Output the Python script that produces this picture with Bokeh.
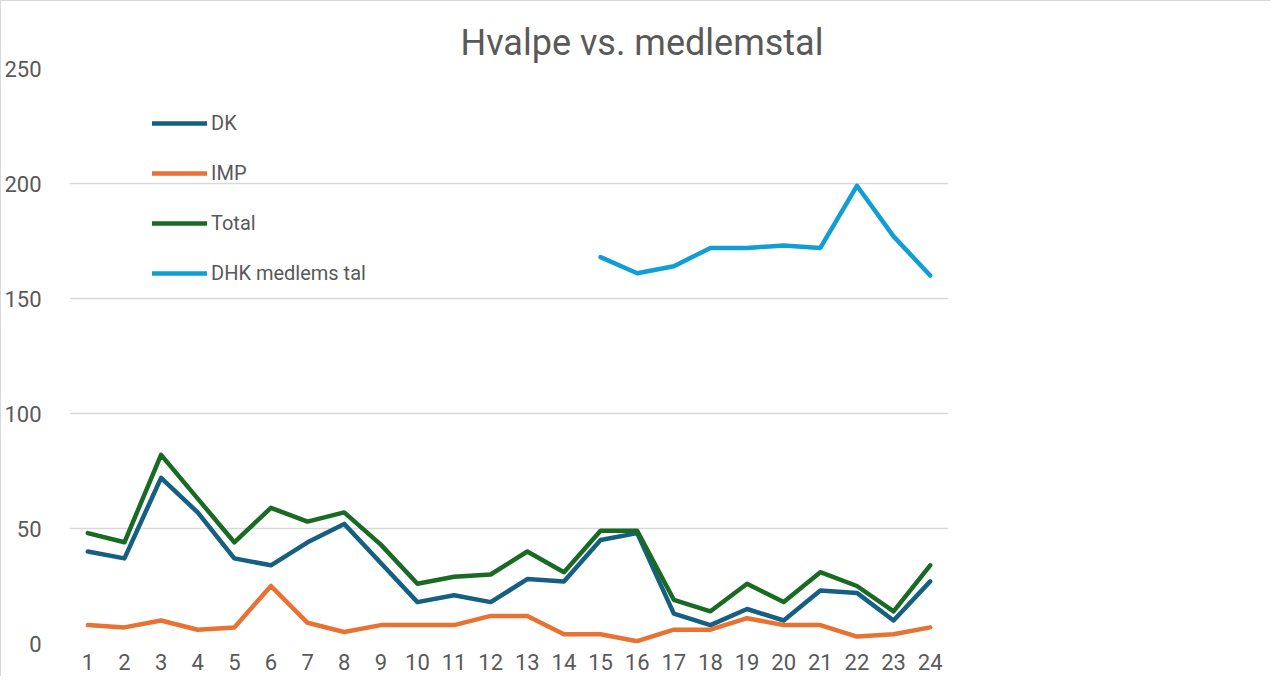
import math
from bokeh.plotting import figure
from bokeh.models import ColumnDataSource, FixedTicker, Legend, LegendItem, Range1d
from bokeh.embed import file_html
from bokeh.resources import INLINE

# ---- data ----
periods = list(range(1, 25))
dk = [40, 37, 72, 57, 37, 34, 44, 52, 35, 18, 21, 18, 28, 27, 45, 48, 13, 8, 15, 10, 23, 22, 10, 27]
imp = [8, 7, 10, 6, 7, 25, 9, 5, 8, 8, 8, 12, 12, 4, 4, 1, 6, 6, 11, 8, 8, 3, 4, 7]
total = [48, 44, 82, 63, 44, 59, 53, 57, 43, 26, 29, 30, 40, 31, 49, 49, 19, 14, 26, 18, 31, 25, 14, 34]
dhk = [None] * 14 + [168, 161, 164, 172, 172, 173, 172, 199, 177, 160]
y_ticks = [0, 50, 100, 150, 200, 250]
title_text = "Hvalpe vs. medlemstal"
series_names = ["DK", "IMP", "Total", "DHK medlems tal"]
colors = ["#156082", "#E97132", "#196B24", "#0F9ED5"]

FONT = "Roboto"
TXT = "#595959"

p = figure(width=1270, height=676, output_backend="svg", toolbar_location=None,
           x_range=Range1d(0.5, 24.5), y_range=Range1d(0, 250),
           min_border_left=65, min_border_right=323, min_border_top=67, min_border_bottom=34,
           styles={"border-top": "1px solid #d9d9d9", "border-left": "1px solid #d9d9d9"})
p.outline_line_color = None
p.background_fill_color = "white"
p.border_fill_color = "white"

p.title.text = title_text
p.title.text_font = FONT
p.title.text_font_size = "36px"
p.title.text_font_style = "normal"
p.title.text_color = TXT
p.title.align = "left"
p.title.offset = 391

p.xgrid.grid_line_color = None
p.ygrid.grid_line_color = "#d9d9d9"
p.ygrid.grid_line_width = 1.5
p.yaxis.ticker = FixedTicker(ticks=y_ticks)
p.xaxis.ticker = FixedTicker(ticks=periods)
for ax in (p.xaxis, p.yaxis):
    ax.axis_line_color = None
    ax.major_tick_line_color = None
    ax.minor_tick_line_color = None
    ax.major_label_text_font = FONT
    ax.major_label_text_font_size = "22px"
    ax.major_label_text_color = TXT
p.yaxis.major_label_standoff = 22
p.xaxis.major_label_standoff = 4

renderers = []
for name, vals, col in zip(series_names, [dk, imp, total, dhk], colors):
    ys = [math.nan if v is None else v for v in vals]
    src = ColumnDataSource(dict(x=periods, y=ys))
    r = p.line("x", "y", source=src, line_color=col, line_width=4.5,
               line_cap="round", line_join="round")
    renderers.append((name, r))

legend = Legend(items=[LegendItem(label=n, renderers=[r]) for n, r in renderers],
                location=(83, 358), orientation="vertical")
legend.background_fill_alpha = 0
legend.border_line_color = None
legend.padding = 0
legend.margin = 0
legend.spacing = 26
legend.glyph_width = 55
legend.glyph_height = 24
legend.label_height = 24
legend.label_standoff = 4
legend.label_text_font = FONT
legend.label_text_font_size = "20px"
legend.label_text_color = TXT
p.add_layout(legend)

open("out.html", "w").write(file_html(p, INLINE))
